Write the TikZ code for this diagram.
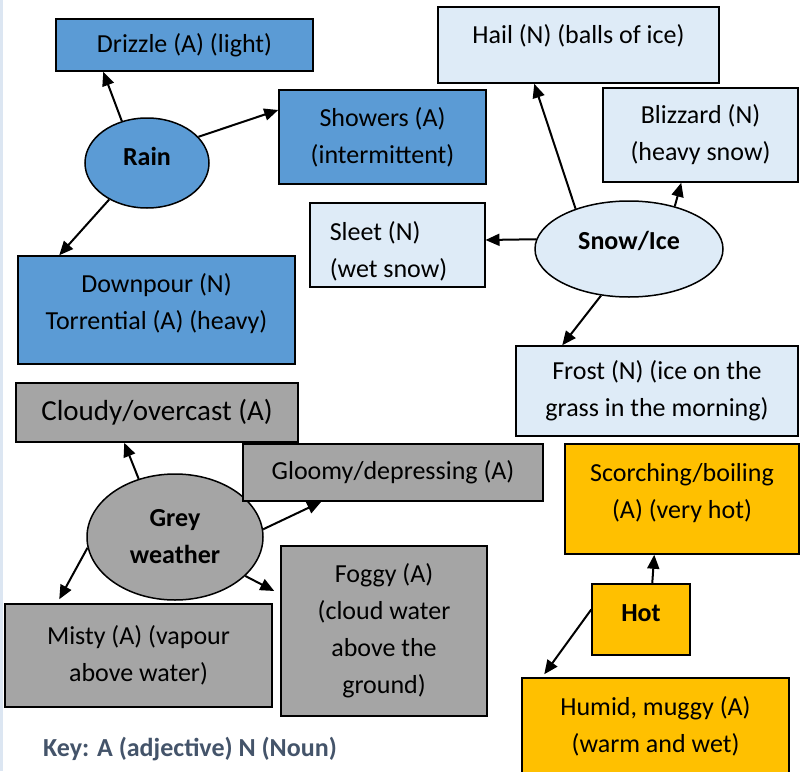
\documentclass[tikz,border=0pt]{standalone}
\usepackage{fontspec}
\setmainfont{Carlito}
\usetikzlibrary{arrows.meta,shapes.geometric}
\definecolor{rainblue}{HTML}{5B9BD5}
\definecolor{snowblue}{HTML}{DEEBF7}
\definecolor{greyfill}{HTML}{A5A5A5}
\definecolor{hotfill}{HTML}{FFC000}
\definecolor{keycol}{HTML}{44546A}
\definecolor{stripcol}{HTML}{DCE6F2}
\begin{document}
\begin{tikzpicture}[x=1pt,y=-1pt,
  box/.style={draw=black, line width=1.5pt, rectangle, inner sep=0pt, font=\fontsize{26}{37}\selectfont},
  ctr/.style={align=center},
  oval/.style={draw=black, line width=1.5pt, ellipse, inner sep=0pt, align=center, font=\fontsize{26}{37}\selectfont\bfseries},
  arr/.style={line width=2pt, -{Triangle[length=14pt,width=12pt]}},
  rainc/.style={fill=rainblue},
  snowc/.style={fill=snowblue},
  greyc/.style={fill=greyfill},
  hotc/.style={fill=hotfill}
]
\useasboundingbox (0,0) rectangle (800,771);
\fill[stripcol] (0,0) rectangle (2.5,771);

% Rain group
\node[oval, rainc, minimum width=124pt, minimum height=90pt, text height=18pt, text depth=13.2pt] (rain) at (147,163) {Rain};
\node[box, rainc, minimum width=257pt, minimum height=52pt] (drizzle) at (184.5,45) {Drizzle (A) (light)};
\node[box, ctr, rainc, minimum width=207pt, minimum height=94pt] (showers) at (382.5,137) {Showers (A)\\(intermittent)};
\node[box, rainc, minimum width=277pt, text height=73pt, text depth=35pt, anchor=base] (downpour) at (156.5,329)
  {\begin{tabular}[b]{c}Downpour (N)\\Torrential (A) (heavy)\end{tabular}};

% Snow group
\node[oval, snowc, minimum width=188pt, minimum height=96pt, text height=15pt, text depth=15pt] (snow) at (629,249) {Snow/Ice};
\node[box, snowc, minimum width=281pt, text height=36pt, text depth=40pt, anchor=base] (hail) at (578.5,43) {Hail (N) (balls of ice)};
\node[box, ctr, snowc, minimum width=195pt, minimum height=94pt] (blizzard) at (700.5,135) {Blizzard (N)\\(heavy snow)};
\node[box, snowc, inner xsep=20pt, text height=74pt, text depth=10pt, anchor=base west] (sleet) at (309,277)
  {\makebox[135pt][l]{\begin{tabular}[b]{@{}l@{}}Sleet (N)\\(wet snow)\end{tabular}}};
\node[box, ctr, snowc, minimum width=282pt, minimum height=90pt] (frost) at (657,391) {Frost (N) (ice on the\\grass in the morning)};

% Grey group
\node[oval, greyc, minimum width=176pt, minimum height=126pt] (grey) at (175,537) {Grey\\weather};
\node[box, greyc, minimum width=282pt, minimum height=59pt, font=\fontsize{29}{37}\selectfont] (cloudy) at (157,412.5) {Cloudy/overcast (A)};
\node[box, greyc, minimum width=300pt, minimum height=57pt] (gloomy) at (393,472.5) {Gloomy/depressing (A)};
\node[box, ctr, greyc, minimum width=206pt, minimum height=170pt] (foggy) at (384,631) {Foggy (A)\\(cloud water\\above the\\ground)};
\node[box, ctr, greyc, minimum width=267pt, minimum height=103pt] (misty) at (138.5,655.5) {Misty (A) (vapour\\above water)};

% Hot group
\node[box, hotc, minimum width=98pt, text height=37pt, text depth=34pt, anchor=base, font=\fontsize{26}{37}\selectfont\bfseries] (hot) at (641,621) {Hot};
\node[box, hotc, minimum width=234pt, text height=74pt, text depth=36pt, anchor=base] (scorching) at (682,518)
  {\begin{tabular}[b]{c}Scorching/boiling\\(A) (very hot)\end{tabular}};
\node[box, ctr, hotc, minimum width=267pt, minimum height=97pt] (humid) at (655.5,726.5) {Humid, muggy (A)\\(warm and wet)};

% Key
\node[font=\fontsize{26}{30}\selectfont\bfseries, text=keycol, anchor=base west, inner sep=0pt] (key) at (43,756) {Key: A (adjective) N (Noun)};

% Connectors
\draw[arr] (rain.121) -- ([xshift=48pt]drizzle.south west);
\draw[arr] (rain.27) -- ([yshift=27pt]showers.west);
\draw[arr] (rain.224) -- ([xshift=42pt]downpour.north west);

\draw[arr] (snow.143) -- ([xshift=97pt]hail.south west);
\draw[arr] (snow.43) -- ([xshift=79pt]blizzard.south west);
\draw[arr] (snow.174) -- ([yshift=5pt]sleet.east);
\draw[arr] (snow.239) -- ([xshift=47pt]frost.north west);

\draw[arr] (grey.122) -- ([xshift=109pt]cloudy.south west);
\draw[arr] (grey.5) -- ([xshift=79pt]gloomy.south west);
\draw[arr] (grey.-29) -- ([xshift=-6pt,yshift=40pt]foggy.west);
\draw[arr] (grey.187) -- ([xshift=55pt,yshift=4pt]misty.north west);

\draw[arr] ([xshift=61pt]hot.north west) -- ([xshift=90pt]scorching.south west);
\draw[arr] ([yshift=10pt]hot.west) -- ([xshift=23pt,yshift=3pt]humid.north west);
\end{tikzpicture}
\end{document}
